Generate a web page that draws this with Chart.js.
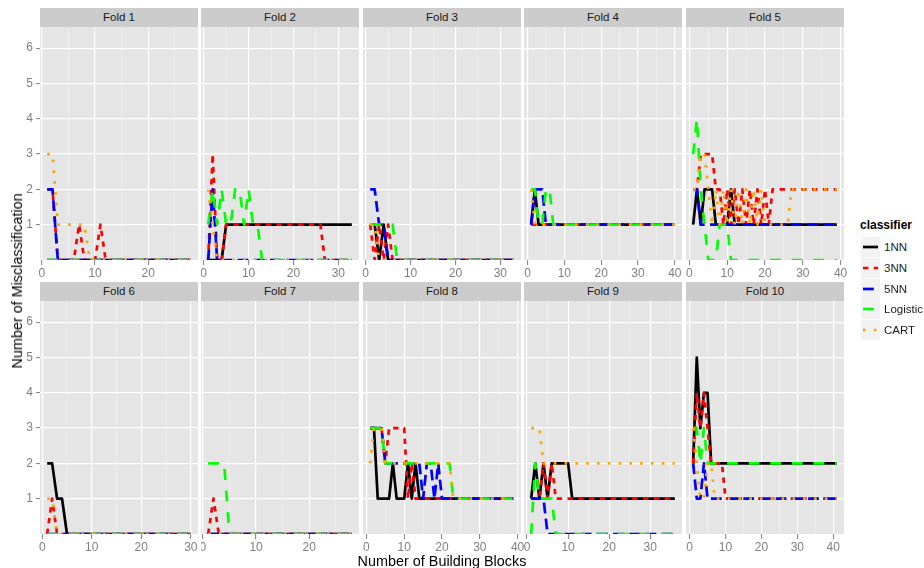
<!DOCTYPE html>
<html>
<head>
<meta charset="utf-8">
<script src="https://cdn.jsdelivr.net/npm/chart.js@4.4.1/dist/chart.umd.min.js"></script>
<style>
html,body{margin:0;padding:0;background:#fff;width:924px;height:568px;overflow:hidden;font-family:"Liberation Sans",Arial,sans-serif;}
.strip{position:absolute;background:#CCCCCC;color:#1A1A1A;font-size:11.5px;text-align:center;height:19px;line-height:19px;}
canvas{position:absolute;}
.ytitle{position:absolute;left:17px;top:281px;transform:translate(-50%,-50%) rotate(-90deg);font-size:14.4px;color:#000;white-space:nowrap;}
.xtitle{position:absolute;left:442px;top:561px;transform:translate(-50%,-50%);font-size:14.4px;color:#000;white-space:nowrap;}
.ltitle{position:absolute;left:860px;top:218px;font-size:12px;font-weight:bold;color:#000;}
.lkey{position:absolute;left:861px;width:19px;height:20px;background:#F2F2F2;}
.llab{position:absolute;left:884px;font-size:11.5px;color:#1A1A1A;height:20px;line-height:20px;white-space:nowrap;}
</style>
</head>
<body>
<div id="root"></div>
<script>
// ---------- data ----------
const folds = ['Fold 1','Fold 2','Fold 3','Fold 4','Fold 5','Fold 6','Fold 7','Fold 8','Fold 9','Fold 10'];
const classifiers = ['1NN','3NN','5NN','Logistic','CART'];
const xBreaks = [0,5,10,15,20,25,30,35,40];
const yTicks = [1,2,3,4,5,6];

const f1_1NN  = [0,0,0,0,0,0,0,0,0,0, 0,0,0,0,0,0,0,0,0,0, 0,0,0,0,0,0,0,0];
const f1_3NN  = [2,2,0,0,0,0,1,0,0,0, 1,0,0,0,0,0,0,0,0,0, 0,0,0,0,0,0,0,0];
const f1_5NN  = [2,2,0,0,0,0,0,0,0,0, 0,0,0,0,0,0,0,0,0,0, 0,0,0,0,0,0,0,0];
const f1_Log  = [0,0,0,0,0,0,0,0,0,0, 0,0,0,0,0,0,0,0,0,0, 0,0,0,0,0,0,0,0];
const f1_CART = [3,3,1,1,1,1,1,1,0,0, 0,0,0,0,0,0,0,0,0,0, 0,0,0,0,0,0,0,0];

const f2_1NN  = [0,0,0,0,1,1,1,1,1,1, 1,1,1,1,1,1,1,1,1,1, 1,1,1,1,1,1,1,1,1,1, 1,1,1];
const f2_3NN  = [0,3,0,0,1,1,1,1,1,1, 1,1,1,1,1,1,1,1,1,1, 1,1,1,1,1,1,0,0,0,0, 0,0,0];
const f2_5NN  = [0,2,0,0,0,0,0,0,0,0, 0,0,0,0,0,0,0,0,0,0, 0,0,0,0,0,0,0,0,0,0, 0,0,0];
const f2_Log  = [1,2,1,2,1,1,2,2,1,2, 1,1,0,0,0,0,0,0,0,0, 0,0,0,0,0,0,0,0,0,0, 0,0,0];
const f2_CART = [2,1,0,0,0,0,0,0,0,0, 0,0,0,0,0,0,0,0,0,0, 0,0,0,0,0,0,0,0,0,0, 0,0,0];

const f3_1NN  = [1,1,0,1,0,0,0,0,0,0, 0,0,0,0,0,0,0,0,0,0, 0,0,0,0,0,0,0,0,0,0, 0,0,0];
const f3_3NN  = [1,0,1,0,1,0,0,0,0,0, 0,0,0,0,0,0,0,0,0,0, 0,0,0,0,0,0,0,0,0,0, 0,0,0];
const f3_5NN  = [2,2,1,1,0,0,0,0,0,0, 0,0,0,0,0,0,0,0,0,0, 0,0,0,0,0,0,0,0,0,0, 0,0,0];
const f3_Log  = [1,1,1,1,1,1,0,0,0,0, 0,0,0,0,0,0,0,0,0,0, 0,0,0,0,0,0,0,0,0,0, 0,0,0];
const f3_CART = [1,1,0,0,0,0,0,0,0,0, 0,0,0,0,0,0,0,0,0,0, 0,0,0,0,0,0,0,0,0,0, 0,0,0];

const f4_1NN  = [1,2,1,1,1,1,1,1,1,1, 1,1,1,1,1,1,1,1,1,1, 1,1,1,1,1,1,1,1,1,1, 1,1,1,1,1,1,1,1,1,1];
const f4_3NN  = [1,1,1,1,1,1,1,1,1,1, 1,1,1,1,1,1,1,1,1,1, 1,1,1,1,1,1,1,1,1,1, 1,1,1,1,1,1,1,1,1,1];
const f4_5NN  = [1,2,2,2,1,1,1,1,1,1, 1,1,1,1,1,1,1,1,1,1, 1,1,1,1,1,1,1,1,1,1, 1,1,1,1,1,1,1,1,1,1];
const f4_Log  = [2,2,1,1,2,2,1,1,1,1, 1,1,1,1,1,1,1,1,1,1, 1,1,1,1,1,1,1,1,1,1, 1,1,1,1,1,1,1,1,1,1];
const f4_CART = [2,1,1,1,1,1,1,1,1,1, 1,1,1,1,1,1,1,1,1,1, 1,1,1,1,1,1,1,1,1,1, 1,1,1,1,1,1,1,1,1,1];

const f5_1NN  = [1,2,1,2,2,2,1,1,1,1, 2,1,1,1,1,1,1,1,1,1, 1,1,1,1,1,1,1,1,1,1, 1,1,1,1,1,1,1,1,1];
const f5_3NN  = [2,2,3,3,3,3,2,2,1,2, 1,2,1,2,1,2,1,2,1,2, 1,2,2,2,2,2,2,2,2,2, 2,2,2,2,2,2,2,2,2];
const f5_5NN  = [2,2,1,1,1,1,1,1,1,1, 1,1,1,1,1,1,1,1,1,1, 1,1,1,1,1,1,1,1,1,1, 1,1,1,1,1,1,1,1,1];
const f5_Log  = [3,4,2,1,0,0,0,1,1,1, 0,0,0,0,0,0,0,0,0,0, 0,0,0,0,0,0,0,0,0,0, 0,0,0,0,0,0,0,0,0];
const f5_CART = [2,2,3,3,2,1,2,1,2,1, 2,1,2,1,2,1,2,1,2,1, 1,1,1,1,1,1,2,2,2,2, 2,2,2,2,2,2,2,2,2];

const f6_1NN  = [2,2,1,1,0,0,0,0,0,0, 0,0,0,0,0,0,0,0,0,0, 0,0,0,0,0,0,0,0,0,0];
const f6_3NN  = [0,1,0,0,0,0,0,0,0,0, 0,0,0,0,0,0,0,0,0,0, 0,0,0,0,0,0,0,0,0,0];
const f6_5NN  = [0,0,0,0,0,0,0,0,0,0, 0,0,0,0,0,0,0,0,0,0, 0,0,0,0,0,0,0,0,0,0];
const f6_Log  = [0,0,0,0,0,0,0,0,0,0, 0,0,0,0,0,0,0,0,0,0, 0,0,0,0,0,0,0,0,0,0];
const f6_CART = [1,1,0,0,0,0,0,0,0,0, 0,0,0,0,0,0,0,0,0,0, 0,0,0,0,0,0,0,0,0,0];

const f7_1NN  = [0,0,0,0,0,0,0,0,0,0, 0,0,0,0,0,0,0,0,0,0, 0,0,0,0,0,0,0,0];
const f7_3NN  = [0,1,0,0,0,0,0,0,0,0, 0,0,0,0,0,0,0,0,0,0, 0,0,0,0,0,0,0,0];
const f7_5NN  = [0,0,0,0,0,0,0,0,0,0, 0,0,0,0,0,0,0,0,0,0, 0,0,0,0,0,0,0,0];
const f7_Log  = [2,2,2,2,0,0,0,0,0,0, 0,0,0,0,0,0,0,0,0,0, 0,0,0,0,0,0,0,0];
const f7_CART = [0,0,0,0,0,0,0,0,0,0, 0,0,0,0,0,0,0,0,0,0, 0,0,0,0,0,0,0,0];

const f8_1NN  = [3,3,1,1,1,1,2,1,1,1, 2,1,2,1,1,1,1,1,1,1, 1,1,1,1,1,1,1,1,1,1, 1,1,1,1,1,1,1,1,1];
const f8_3NN  = [3,3,3,3,2,3,3,3,3,3, 1,2,1,1,1,1,1,1,1,1, 1,1,1,1,1,1,1,1,1,1, 1,1,1,1,1,1,1,1,1];
const f8_5NN  = [3,3,3,3,2,2,2,2,2,2, 2,2,2,2,1,2,2,1,2,1, 1,1,1,1,1,1,1,1,1,1, 1,1,1,1,1,1,1,1,1];
const f8_Log  = [3,3,3,3,2,2,2,2,2,2, 2,2,2,2,2,2,2,2,2,2, 2,2,1,1,1,1,1,1,1,1, 1,1,1,1,1,1,1,1,1];
const f8_CART = [2,3,3,3,2,2,2,2,2,2, 2,2,2,2,2,2,2,2,2,2, 2,2,1,1,1,1,1,1,1,1, 1,1,1,1,1,1,1,1,1];

const f9_1NN  = [1,2,1,2,1,2,2,2,2,2, 1,1,1,1,1,1,1,1,1,1, 1,1,1,1,1,1,1,1,1,1, 1,1,1,1,1,1];
const f9_3NN  = [1,1,1,2,1,2,1,1,1,1, 1,1,1,1,1,1,1,1,1,1, 1,1,1,1,1,1,1,1,1,1, 1,1,1,1,1,1];
const f9_5NN  = [1,1,1,1,0,0,0,0,0,0, 0,0,0,0,0,0,0,0,0,0, 0,0,0,0,0,0,0,0,0,0, 0,0,0,0,0,0];
const f9_Log  = [0,2,1,1,1,1,0,0,0,0, 0,0,0,0,0,0,0,0,0,0, 0,0,0,0,0,0,0,0,0,0, 0,0,0,0,0,0];
const f9_CART = [3,3,3,2,2,2,2,2,2,2, 2,2,2,2,2,2,2,2,2,2, 2,2,2,2,2,2,2,2,2,2, 2,2,2,2,2,2];

const f10_1NN  = [2,5,3,4,4,2,2,2,2,2, 2,2,2,2,2,2,2,2,2,2, 2,2,2,2,2,2,2,2,2,2, 2,2,2,2,2,2,2,2,2,2, 2];
const f10_3NN  = [2,4,3,4,3,2,2,2,2,1, 1,1,1,1,1,1,1,1,1,1, 1,1,1,1,1,1,1,1,1,1, 1,1,1,1,1,1,1,1,1,1, 1];
const f10_5NN  = [2,1,1,2,1,1,1,1,1,1, 1,1,1,1,1,1,1,1,1,1, 1,1,1,1,1,1,1,1,1,1, 1,1,1,1,1,1,1,1,1,1, 1];
const f10_Log  = [3,3,2,3,2,2,2,2,2,2, 2,2,2,2,2,2,2,2,2,2, 2,2,2,2,2,2,2,2,2,2, 2,2,2,2,2,2,2,2,2,2, 2];
const f10_CART = [3,2,1,1,2,2,1,1,1,1, 1,1,1,1,1,1,1,1,1,1, 1,1,1,1,1,1,1,1,1,1, 1,1,1,1,1,1,1,1,1,1, 1];

const foldSeries = [
  [f1_1NN, f1_3NN, f1_5NN, f1_Log, f1_CART],
  [f2_1NN, f2_3NN, f2_5NN, f2_Log, f2_CART],
  [f3_1NN, f3_3NN, f3_5NN, f3_Log, f3_CART],
  [f4_1NN, f4_3NN, f4_5NN, f4_Log, f4_CART],
  [f5_1NN, f5_3NN, f5_5NN, f5_Log, f5_CART],
  [f6_1NN, f6_3NN, f6_5NN, f6_Log, f6_CART],
  [f7_1NN, f7_3NN, f7_5NN, f7_Log, f7_CART],
  [f8_1NN, f8_3NN, f8_5NN, f8_Log, f8_CART],
  [f9_1NN, f9_3NN, f9_5NN, f9_Log, f9_CART],
  [f10_1NN, f10_3NN, f10_5NN, f10_Log, f10_CART]
];

// ---------- styles / layout ----------
const COLORS = ['#000000','#FF0000','#0000FF','#00FF00','#FFA500'];
const LW = 2.7;
const DASHES = [[], [5.4,5.4], [10.8,5.4], [10.8,10.8], [2.7,8.1]];
const PL = [40,201,363,524,686], PT = [27,301], PW = 158, PH = 233;

Chart.defaults.font.family = '"Liberation Sans", Arial, sans-serif';

const root = document.getElementById('root');

const panelBg = {
  id:'panelBg',
  beforeDraw(chart){
    const {ctx, chartArea:a} = chart;
    ctx.save(); ctx.fillStyle = '#E5E5E5';
    ctx.fillRect(a.left, a.top, a.right-a.left, a.bottom-a.top);
    ctx.restore();
  }
};

function zeroPad(s){ s.paddingTop = 0; s.paddingBottom = 0; s.paddingLeft = 0; s.paddingRight = 0; }

folds.forEach((name,k)=>{
  const col = k%5, row = Math.floor(k/5);
  const series = foldSeries[k];
  const n = series[0].length;
  const xmin = 1 - 0.05*(n-1), xmax = n + 0.05*(n-1);
  const leftM = col===0 ? 40 : 0, rightM = 12, bottomM = 22;

  const strip = document.createElement('div');
  strip.className = 'strip';
  strip.style.left = PL[col]+'px'; strip.style.top = (PT[row]-19)+'px'; strip.style.width = PW+'px';
  strip.textContent = name;
  root.appendChild(strip);

  const cv = document.createElement('canvas');
  const W = PW+leftM+rightM, H = PH+bottomM;
  cv.width = W; cv.height = H;
  cv.style.left = (PL[col]-leftM)+'px'; cv.style.top = PT[row]+'px';
  cv.style.width = W+'px'; cv.style.height = H+'px';
  root.appendChild(cv);

  const isMajor = v => v % 10 === 0;
  new Chart(cv.getContext('2d'), {
    type:'line',
    data:{
      labels: series[0].map((_,i)=>i+1),
      datasets: classifiers.map((c,j)=>({
        label:c,
        data: series[j].map((v,i)=>({x:i+1, y:v})),
        borderColor:COLORS[j], borderWidth:LW, borderDash:DASHES[j],
        borderCapStyle:'butt', borderJoinStyle:'round',
        pointRadius:0, tension:0, fill:false, clip:0, order:5-j
      }))
    },
    options:{
      responsive:false, animation:false, events:[], devicePixelRatio:1,
      layout:{autoPadding:false, padding:{left:0,right:rightM,top:0,bottom:0}},
      plugins:{legend:{display:false}, tooltip:{enabled:false}, title:{display:false}},
      scales:{
        x:{
          type:'linear', min:xmin, max:xmax,
          afterBuildTicks: s => { s.ticks = xBreaks.filter(v=>v>=xmin && v<=xmax).map(v=>({value:v})); },
          afterFit: s => { s.height = bottomM; zeroPad(s); },
          ticks:{autoSkip:false, maxRotation:0, minRotation:0, padding:1, color:'#7F7F7F', font:{size:12},
                 callback: v => isMajor(v) ? String(v) : ''},
          grid:{
            color: c => (c.tick && isMajor(c.tick.value)) ? '#FFFFFF' : '#F2F2F2',
            lineWidth: c => (c.tick && isMajor(c.tick.value)) ? 1.2 : 0.6,
            drawTicks:true, tickLength:5, tickWidth:1,
            tickColor: c => (c.tick && isMajor(c.tick.value)) ? '#7F7F7F' : 'rgba(0,0,0,0)'
          },
          border:{display:false}
        },
        y:{
          type:'linear', min:0, max:6.6,
          afterBuildTicks: s => { s.ticks = yTicks.map(v=>({value:v})); },
          afterFit: s => { s.width = leftM; zeroPad(s); },
          ticks:{display: col===0, padding:3, color:'#7F7F7F', font:{size:12}},
          grid:{color:'#FFFFFF', lineWidth:1.2, drawTicks: col===0, tickLength:4, tickWidth:1, tickColor:'#7F7F7F'},
          border:{display:false}
        }
      }
    },
    plugins:[panelBg]
  });
});

// axis titles
const yt = document.createElement('div'); yt.className='ytitle'; yt.textContent='Number of Misclassification'; root.appendChild(yt);
const xt = document.createElement('div'); xt.className='xtitle'; xt.textContent='Number of Building Blocks'; root.appendChild(xt);

// legend
const lt = document.createElement('div'); lt.className='ltitle'; lt.textContent='classifier'; root.appendChild(lt);
classifiers.forEach((c,j)=>{
  const top = 237 + j*20.8;
  const key = document.createElement('div'); key.className='lkey'; key.style.top = top+'px';
  const ns = 'http://www.w3.org/2000/svg';
  const svg = document.createElementNS(ns,'svg');
  svg.setAttribute('width','19'); svg.setAttribute('height','20');
  const ln = document.createElementNS(ns,'line');
  ln.setAttribute('x1','2'); ln.setAttribute('x2','17'); ln.setAttribute('y1','10'); ln.setAttribute('y2','10');
  ln.setAttribute('stroke',COLORS[j]); ln.setAttribute('stroke-width',String(LW));
  if (DASHES[j].length) ln.setAttribute('stroke-dasharray', DASHES[j].join(' '));
  svg.appendChild(ln); key.appendChild(svg); root.appendChild(key);
  const lab = document.createElement('div'); lab.className='llab'; lab.style.top = top+'px'; lab.textContent = c;
  root.appendChild(lab);
});
</script>
</body>
</html>
